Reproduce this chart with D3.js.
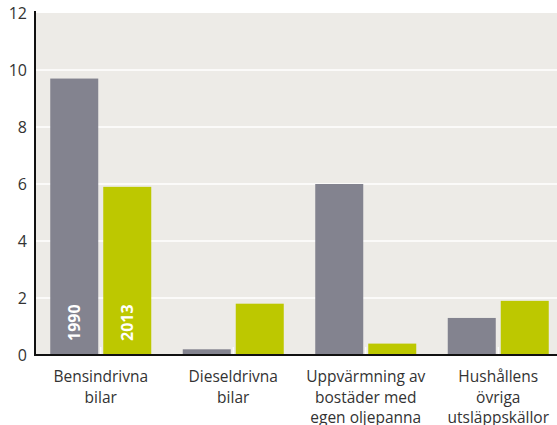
<!DOCTYPE html>
<html><head><meta charset="utf-8">
<script src="https://cdn.jsdelivr.net/npm/d3@7"></script>
<style>body{margin:0;background:#fff}svg{display:block}text{font-family:"Open Sans",sans-serif}</style>
</head><body><svg id="c" width="557" height="425"></svg>
<script>
const categories = [["Bensindrivna","bilar"],["Dieseldrivna","bilar"],["Uppvärmning av","bostäder med","egen oljepanna"],["Hushållens","övriga","utsläppskällor"]];
const series = ["1990","2013"];
const values1990 = [9.7, 0.2, 6.0, 1.3];
const values2013 = [5.9, 1.8, 0.4, 1.9];
const yTicks = [0,2,4,6,8,10,12];
const colors = ["#83838f","#bdc800"];

(function(){
const svg = d3.select("#c");
const mL = 35, mR = 565, mT = 13, mB = 355;
const x = d3.scaleBand().domain(d3.range(categories.length)).range([mL, mR]).paddingInner(0).paddingOuter(0);
const y = d3.scaleLinear().domain([0,12]).range([mB, mT]);
const barW = 48, gap = 5, off = -0.5;

svg.append("rect").attr("x", mL).attr("y", mT).attr("width", 557-mL).attr("height", mB-mT).attr("fill", "#edebe7");
svg.append("g").selectAll("line").data(yTicks.filter(d=>d>0&&d<12)).join("line")
  .attr("x1", mL).attr("x2", 557).attr("y1", d=>y(d)).attr("y2", d=>y(d))
  .attr("stroke", "#fff").attr("stroke-width", 1.5);

const data = categories.map((c,i)=>({i, v:[values1990[i], values2013[i]]}));
const g = svg.append("g").selectAll("g").data(data).join("g");
g.selectAll("rect").data(d=>d.v.map((v,k)=>({i:d.i,k,v}))).join("rect")
  .attr("x", d=>x(d.i)+x.bandwidth()/2 + off + (d.k===0 ? -gap/2-barW : gap/2))
  .attr("y", d=>y(d.v)).attr("width", barW).attr("height", d=>y(0)-y(d.v))
  .attr("fill", d=>colors[d.k]);
svg.append("g").selectAll("line").data(d3.range(categories.length)).join("line")
  .attr("x1", d=>x(d)+x.bandwidth()/2+off).attr("x2", d=>x(d)+x.bandwidth()/2+off)
  .attr("y1", mB-8).attr("y2", mB).attr("stroke","#fff").attr("stroke-width",1.2);

series.forEach((s,k)=>{
  const cx = x(0)+x.bandwidth()/2 + off + (k===0 ? -gap/2-barW/2 : gap/2+barW/2);
  svg.append("text").attr("transform", `translate(${cx+6},${mB-14}) rotate(-90)`)
    .attr("fill","#fff").attr("font-weight","bold").attr("font-size",16).text(s);
});

svg.append("line").attr("x1", mL).attr("x2", mL).attr("y1", mT-2).attr("y2", mB+1).attr("stroke","#111").attr("stroke-width",2);
svg.append("line").attr("x1", mL-1).attr("x2", 557).attr("y1", mB).attr("y2", mB).attr("stroke","#111").attr("stroke-width",2);

svg.append("g").selectAll("text").data(yTicks).join("text")
  .attr("x", 27).attr("y", d=>y(d)+6).attr("text-anchor","end")
  .attr("font-size",16).attr("fill","#333").text(d=>d);

const cl = svg.append("g").selectAll("text").data(categories).join("text")
  .attr("text-anchor","middle").attr("font-size",15.5).attr("fill","#333");
cl.selectAll("tspan").data((d,i)=>d.map(t=>({t,i}))).join("tspan")
  .attr("x", d=>x(d.i)+x.bandwidth()/2+off).attr("y",(d,j)=>382+j*20.5).text(d=>d.t);
})();
</script></body></html>
